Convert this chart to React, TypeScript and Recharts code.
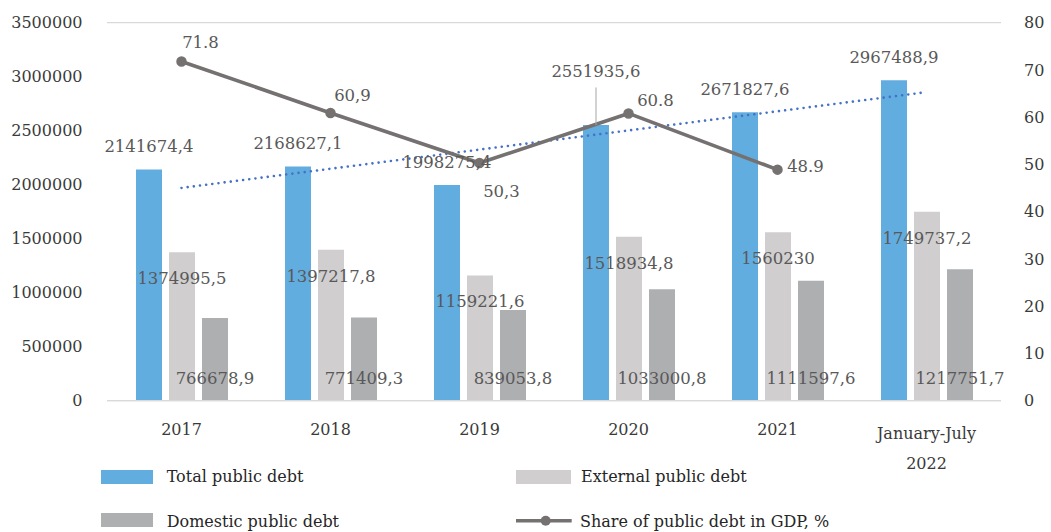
import React from 'react';
import { ComposedChart, Bar, Line, XAxis, YAxis, CartesianGrid, LabelList } from 'recharts';

const categories = ['2017', '2018', '2019', '2020', '2021', 'January-July 2022'];
const totalDebt = [2141674.4, 2168627.1, 1998275.4, 2551935.6, 2671827.6, 2967488.9];
const externalDebt = [1374995.5, 1397217.8, 1159221.6, 1518934.8, 1560230, 1749737.2];
const domesticDebt = [766678.9, 771409.3, 839053.8, 1033000.8, 1111597.6, 1217751.7];
const shareGdp: (number | null)[] = [71.8, 60.9, 50.3, 60.8, 48.9, null];
const shareLabels = ['71.8', '60,9', '50,3', '60.8', '48.9', ''];
const trendTotal: (number | null)[] = [1970000, null, null, null, null, 2857000];
const leftTicks = [0, 500000, 1000000, 1500000, 2000000, 2500000, 3000000, 3500000];
const rightTicks = [0, 10, 20, 30, 40, 50, 60, 70, 80];

const data = categories.map((c, i) => ({
  category: c,
  total: totalDebt[i],
  external: externalDebt[i],
  domestic: domesticDebt[i],
  share: shareGdp[i],
  trend: trendTotal[i],
}));

const FONT = 'DejaVu Serif';
const BLUE = '#62ADE0';
const LIGHT = '#D0CECE';
const DARK = '#AEAFB1';
const LINE = '#757171';
const LABEL = '#595959';
const TICK = '#3A3A3A';

const fmt = (v: number) => String(v).replace('.', ',');

const labelStyle = { fontFamily: FONT, fontSize: 16.5, fill: LABEL };

const TotalLabel = (props: any) => {
  const { x, y, width, index, value } = props;
  const cx = Number(x) + Number(width) / 2;
  const top = Number(y);
  const lifted = index === 3;
  const cy = top - (lifted ? 54 : 23);
  return (
    <g>
      {lifted && <line x1={cx} x2={cx} y1={top - 37.6} y2={top} stroke="#A6A6A6" strokeWidth={1} />}
      <text x={cx} y={cy} dy="0.36em" textAnchor="middle" {...labelStyle}>{fmt(value)}</text>
    </g>
  );
};

const ExternalLabel = (props: any) => {
  const { x, y, width, value } = props;
  const cx = Number(x) + Number(width) / 2;
  return (
    <text x={cx} y={Number(y) + 26} dy="0.36em" textAnchor="middle" {...labelStyle}>{fmt(value)}</text>
  );
};

const DomesticLabel = (props: any) => {
  const { x, y, width, height, value } = props;
  const cx = Number(x) + Number(width) / 2;
  const bottom = Number(y) + Number(height);
  return (
    <text x={cx} y={bottom - 22.5} dy="0.36em" textAnchor="middle" {...labelStyle}>{fmt(value)}</text>
  );
};

const shareLabelOffsets = [
  [19, -19],
  [22, -18],
  [22, 28],
  [27, -13],
  [28, -4],
  [0, 0],
];

const ShareLabel = (props: any) => {
  const { x, y, index } = props;
  if (x == null || y == null || !shareLabels[index]) return null;
  const [dx, dy] = shareLabelOffsets[index];
  return (
    <text x={Number(x) + dx} y={Number(y) + dy} dy="0.36em" textAnchor="middle" {...labelStyle}>
      {shareLabels[index]}
    </text>
  );
};

const XTick = (props: any) => {
  const { x, y, payload } = props;
  const value: string = payload.value;
  const parts = value.includes(' ') ? [value.slice(0, value.lastIndexOf(' ')), value.slice(value.lastIndexOf(' ') + 1)] : [value];
  const style = { fontFamily: FONT, fontSize: 16, fill: TICK };
  if (parts.length === 1) {
    return (
      <text x={x} y={Number(y) + 28.6} dy="0.36em" textAnchor="middle" {...style}>{parts[0]}</text>
    );
  }
  return (
    <g>
      <text x={x} y={Number(y) + 32.6} dy="0.36em" textAnchor="middle" {...style}>{parts[0]}</text>
      <text x={x} y={Number(y) + 62.6} dy="0.36em" textAnchor="middle" {...style}>{parts[1]}</text>
    </g>
  );
};

const legendText: React.CSSProperties = {
  position: 'absolute',
  fontFamily: FONT,
  fontSize: 16,
  color: '#262626',
  lineHeight: '20px',
  whiteSpace: 'nowrap',
};

export default function App() {
  return (
    <div style={{ position: 'absolute', left: 0, top: 0, width: 1051, height: 532, background: '#fff' }}>
      <ComposedChart
        width={1051}
        height={532}
        data={data}
        margin={{ top: 22.7, right: 5, bottom: 0, left: 7 }}
        barGap={7}
      >
        <CartesianGrid vertical={false} stroke="#D9D9D9" strokeWidth={1.3} />
        <XAxis
          dataKey="category"
          height={131.3}
          tickLine={false}
          tickSize={0}
          tickMargin={0}
          axisLine={{ stroke: '#D9D9D9', strokeWidth: 1.3 }}
          tick={<XTick />}
          interval={0}
        />
        <YAxis
          yAxisId="left"
          orientation="left"
          width={100}
          domain={[0, 3500000]}
          ticks={leftTicks}
          tickLine={false}
          axisLine={false}
          tickSize={0}
          tickMargin={24.5}
          tick={{ fontFamily: FONT, fontSize: 16, fill: TICK }}
          interval={0}
        />
        <YAxis
          yAxisId="right"
          orientation="right"
          width={45}
          domain={[0, 80]}
          ticks={rightTicks}
          tickLine={false}
          axisLine={false}
          tickSize={0}
          tickMargin={23}
          tick={{ fontFamily: FONT, fontSize: 16, fill: TICK, textAnchor: 'start' }}
          interval={0}
        />
        <Bar yAxisId="left" dataKey="total" fill={BLUE} barSize={26} isAnimationActive={false}>
          <LabelList dataKey="total" content={<TotalLabel />} />
        </Bar>
        <Bar yAxisId="left" dataKey="external" fill={LIGHT} barSize={26} isAnimationActive={false}>
          <LabelList dataKey="external" content={<ExternalLabel />} />
        </Bar>
        <Bar yAxisId="left" dataKey="domestic" fill={DARK} barSize={26} isAnimationActive={false}>
          <LabelList dataKey="domestic" content={<DomesticLabel />} />
        </Bar>
        <Line
          yAxisId="left"
          dataKey="trend"
          connectNulls
          stroke="#4472C4"
          strokeWidth={2.6}
          strokeDasharray="0.01 6.2"
          strokeLinecap="round"
          dot={false}
          activeDot={false}
          isAnimationActive={false}
        />
        <Line
          yAxisId="right"
          dataKey="share"
          stroke={LINE}
          strokeWidth={3.6}
          dot={{ r: 4.5, fill: LINE, stroke: LINE, strokeWidth: 1.5 }}
          activeDot={false}
          isAnimationActive={false}
        >
          <LabelList dataKey="share" content={<ShareLabel />} />
        </Line>
      </ComposedChart>

      <div style={{ position: 'absolute', left: 100.7, top: 470, width: 52.6, height: 14, background: BLUE }} />
      <div style={{ ...legendText, left: 166.7, top: 466.7 }}>Total public debt</div>

      <div style={{ position: 'absolute', left: 516, top: 470, width: 54.7, height: 14, background: LIGHT }} />
      <div style={{ ...legendText, left: 581, top: 466.7 }}>External public debt</div>

      <div style={{ position: 'absolute', left: 100.7, top: 513.3, width: 52.6, height: 13.4, background: DARK }} />
      <div style={{ ...legendText, left: 166.7, top: 511.7 }}>Domestic public debt</div>

      <svg style={{ position: 'absolute', left: 512, top: 510 }} width={64} height={22}>
        <line x1={4} x2={59.7} y1={10.7} y2={10.7} stroke={LINE} strokeWidth={3.6} />
        <circle cx={33.7} cy={10.7} r={5} fill={LINE} />
      </svg>
      <div style={{ ...legendText, left: 580, top: 511.7 }}>Share of public debt in GDP, %</div>
    </div>
  );
}
